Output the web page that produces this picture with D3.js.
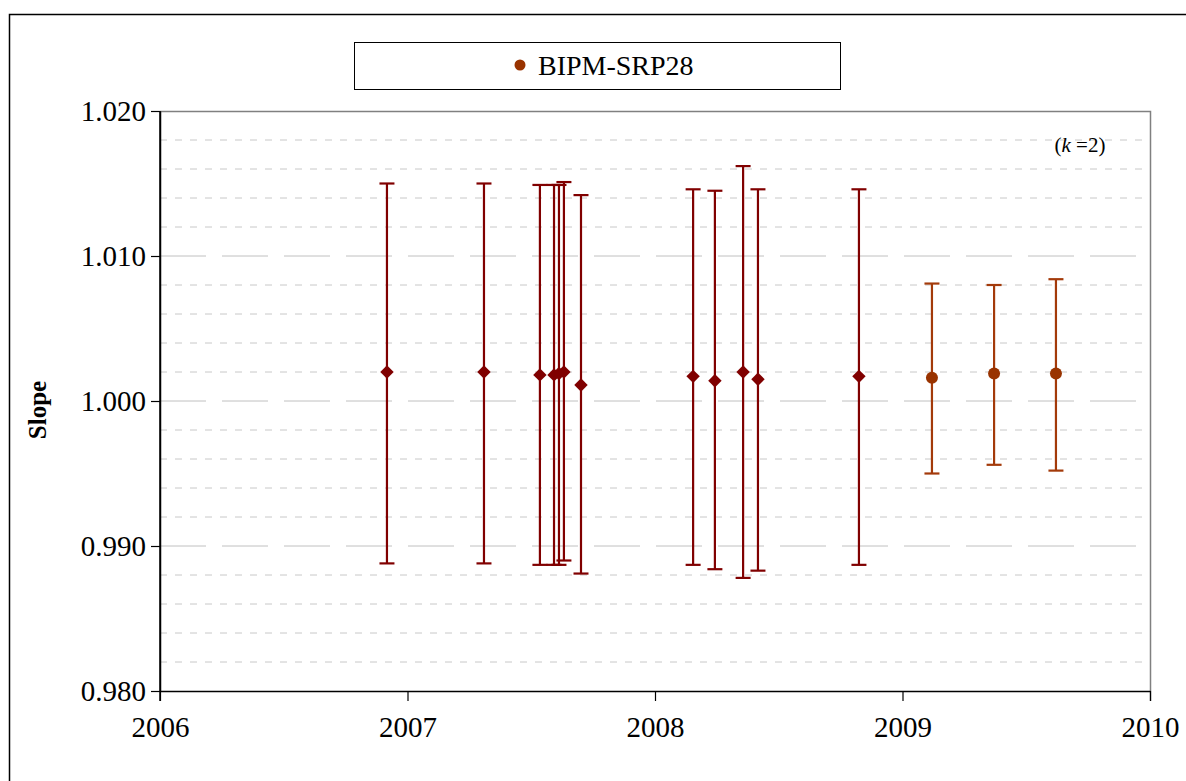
<!DOCTYPE html>
<html>
<head>
<meta charset="utf-8">
<script src="https://cdn.jsdelivr.net/npm/d3@7"></script>
<style>
body { margin: 0; background: #fff; }
svg { display: block; font-family: "Liberation Serif", "Times New Roman", serif; }
</style>
</head>
<body>
<div id="chart"></div>
<script>
// data: unnamed series (diamonds)
var dates1 = [2006.917, 2007.309, 2007.535, 2007.592, 2007.612, 2007.632, 2007.701, 2008.154, 2008.242, 2008.356, 2008.416, 2008.824];
var slope1 = [1.0020, 1.0020, 1.0018, 1.0018, 1.0019, 1.0020, 1.0011, 1.0017, 1.0014, 1.0020, 1.0015, 1.0017];
var upper1 = [1.0150, 1.0150, 1.0149, 1.0149, 1.0149, 1.0151, 1.0142, 1.0146, 1.0145, 1.0162, 1.0146, 1.0146];
var lower1 = [0.9888, 0.9888, 0.9887, 0.9887, 0.9887, 0.9890, 0.9881, 0.9887, 0.9884, 0.9878, 0.9883, 0.9887];

// BIPM-SRP28 (circles)
var dates2 = [2009.119, 2009.370, 2009.620];
var slope2 = [1.0016, 1.0019, 1.0019];
var upper2 = [1.0081, 1.0080, 1.0084];
var lower2 = [0.9950, 0.9956, 0.9952];

var xTicks = [2006, 2007, 2008, 2009, 2010];
var yTicks = [0.980, 0.990, 1.000, 1.010, 1.020];
var yMinor = [0.982, 0.984, 0.986, 0.988, 0.992, 0.994, 0.996, 0.998, 1.002, 1.004, 1.006, 1.008, 1.012, 1.014, 1.016, 1.018];
var legendLabel = "BIPM-SRP28";

// dimensions
var margin = {top: 111, left: 160};
var width = 990;
var height = 580;

var svg = d3.select("#chart").append("svg")
	.attr("width", 1186)
	.attr("height", 781);

// outer chart border
svg.append("rect")
	.attr("x", 9.5).attr("y", 14.5)
	.attr("width", 1200).attr("height", 800)
	.style("fill", "none").style("stroke", "#000").style("stroke-width", 1.5);

var g = svg.append("g")
	.attr("transform", "translate(" + margin.left + "," + margin.top + ")");

var x = d3.scaleLinear().domain([2006, 2010]).range([0, width]);
var y = d3.scaleLinear().domain([0.980, 1.020]).range([height, 0]);

// gridlines
g.selectAll(".minor").data(yMinor).enter().append("line")
	.attr("x1", 0).attr("x2", width)
	.attr("y1", d => y(d)).attr("y2", d => y(d))
	.style("stroke", "#c8c8c8").style("stroke-dasharray", "7,8");

g.selectAll(".major").data([0.990, 1.000, 1.010]).enter().append("line")
	.attr("x1", 0).attr("x2", width)
	.attr("y1", d => y(d)).attr("y2", d => y(d))
	.style("stroke", "#c0c0c0").style("stroke-dasharray", "46,16");

// frame top & right (gray)
g.append("path")
	.attr("d", "M0,0.5H" + (width + 0.5) + "V" + (height + 10))
	.style("fill", "none").style("stroke", "#808080").style("stroke-width", 1.5);

// axes
var yAxis = g.append("g")
	.call(d3.axisLeft(y).tickValues(yTicks).tickFormat(d3.format(".3f")).tickSize(9).tickSizeOuter(0));
var xAxis = g.append("g")
	.attr("transform", "translate(0," + height + ")")
	.call(d3.axisBottom(x).tickValues(xTicks).tickFormat(d3.format("d")).tickSize(10).tickSizeOuter(0));

[yAxis, xAxis].forEach(a => {
	a.select(".domain").style("stroke", "#000").style("stroke-width", 1.5);
	a.selectAll(".tick line").style("stroke", "#000").style("stroke-width", 1.2);
	a.selectAll("text").style("font-family", "Liberation Serif, Times New Roman, serif")
		.style("font-size", "29px").style("fill", "#000");
});
yAxis.selectAll("text").attr("x", -14).attr("dy", "0.34em");
xAxis.selectAll("text").attr("y", 46).attr("dy", 0);
// left axis extends below bottom
g.append("line").attr("x1", 0).attr("x2", 0).attr("y1", 0).attr("y2", height + 10)
	.style("stroke", "#000").style("stroke-width", 1.5);

// y axis label
svg.append("text")
	.attr("transform", "translate(46,410) rotate(-90)")
	.style("text-anchor", "middle")
	.style("font-size", "25px").style("font-weight", "bold")
	.text("Slope");

// error bars
function errorBars(dates, lower, upper, color) {
	var idx = d3.range(dates.length);
	var eb = g.append("g");
	eb.selectAll(".v").data(idx).enter().append("line")
		.attr("x1", i => x(dates[i])).attr("x2", i => x(dates[i]))
		.attr("y1", i => y(upper[i])).attr("y2", i => y(lower[i]))
		.style("stroke", color).style("stroke-width", 2.2);
	eb.selectAll(".cu").data(idx).enter().append("line")
		.attr("x1", i => x(dates[i]) - 7.5).attr("x2", i => x(dates[i]) + 7.5)
		.attr("y1", i => y(upper[i])).attr("y2", i => y(upper[i]))
		.style("stroke", color).style("stroke-width", 2.2);
	eb.selectAll(".cl").data(idx).enter().append("line")
		.attr("x1", i => x(dates[i]) - 7.5).attr("x2", i => x(dates[i]) + 7.5)
		.attr("y1", i => y(lower[i])).attr("y2", i => y(lower[i]))
		.style("stroke", color).style("stroke-width", 2.2);
}
errorBars(dates1, lower1, upper1, "#800000");
errorBars(dates2, lower2, upper2, "#a33a0a");

// markers
g.selectAll(".dia").data(d3.range(dates1.length)).enter().append("path")
	.attr("d", d3.symbol().type(d3.symbolDiamond2).size(115))
	.attr("transform", i => "translate(" + x(dates1[i]) + "," + y(slope1[i]) + ")")
	.style("fill", "#800000");

g.selectAll(".dot").data(d3.range(dates2.length)).enter().append("circle")
	.attr("cx", i => x(dates2[i])).attr("cy", i => y(slope2[i]))
	.attr("r", 6)
	.style("fill", "#993300");

// k=2 note
var k = svg.append("text")
	.attr("x", 1080).attr("y", 152)
	.style("text-anchor", "middle")
	.style("font-size", "21px");
k.append("tspan").text("(");
k.append("tspan").style("font-style", "italic").text("k");
k.append("tspan").text(" =2)");

// legend
var legend = svg.append("g");
legend.append("rect")
	.attr("x", 354.5).attr("y", 42.5).attr("width", 486).attr("height", 47)
	.style("fill", "#fff").style("stroke", "#000").style("stroke-width", 1);
legend.append("circle")
	.attr("cx", 520).attr("cy", 65).attr("r", 5.5)
	.style("fill", "#993300");
legend.append("text")
	.attr("x", 538).attr("y", 75)
	.style("font-size", "28px")
	.text(legendLabel);
</script>
</body>
</html>
